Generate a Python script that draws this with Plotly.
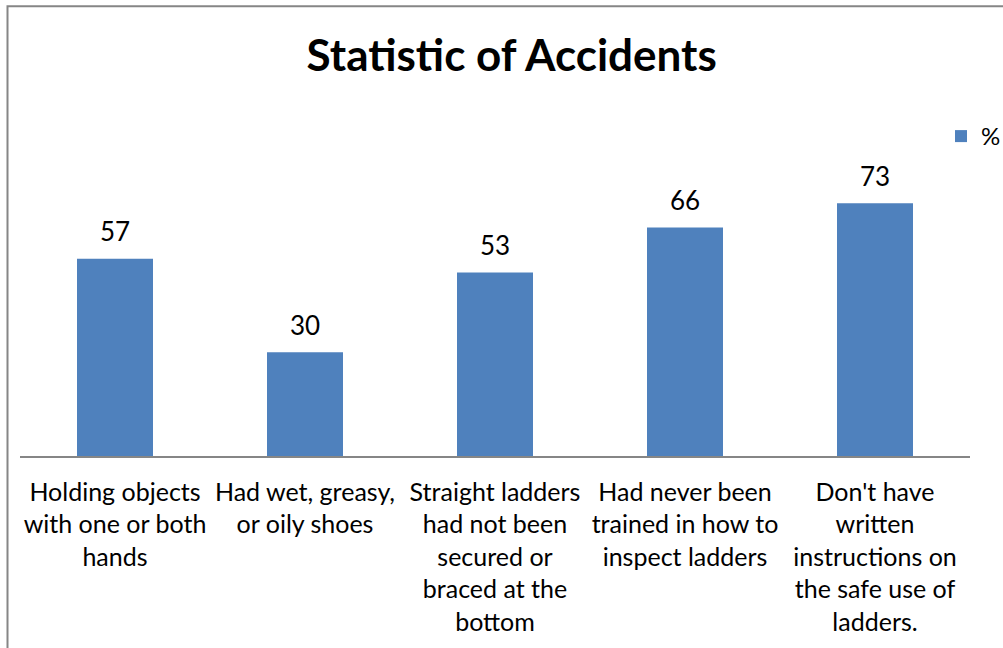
import plotly.graph_objects as go

# ---- data ----
categories = [
    "Holding objects with one or both hands",
    "Had wet, greasy, or oily shoes",
    "Straight ladders had not been secured or braced at the bottom",
    "Had never been trained in how to inspect ladders",
    "Don't have written instructions on the safe use of ladders.",
]
tick_labels = [
    "Holding objects<br>with one or both<br>hands",
    "Had wet, greasy,<br>or oily shoes",
    "Straight ladders<br>had not been<br>secured or<br>braced at the<br>bottom",
    "Had never been<br>trained in how to<br>inspect ladders",
    "Don't have<br>written<br>instructions on<br>the safe use of<br>ladders.",
]
values = [57, 30, 53, 66, 73]
series_name = "%"
chart_title = "Statistic of Accidents"

FONT = "Lato"
BAR_COLOR = "#4F81BD"
GRAY = "#868686"

W, H = 1003, 648
L, R, T, B = 20, 33, 179, 191.5
plot_h = H - T - B
plot_w = W - L - R

fig = go.Figure()
fig.add_trace(
    go.Bar(
        x=categories,
        y=values,
        name=series_name,
        marker=dict(color=BAR_COLOR, line=dict(width=0)),
        showlegend=True,
        hoverinfo="x+y",
    )
)

for c, v in zip(categories, values):
    fig.add_annotation(
        x=c, y=v, xref="x", yref="y",
        text=str(v), showarrow=False,
        yanchor="middle", yshift=27.5,
        font=dict(family=FONT, size=26, color="black"),
    )

# chart border (only top & left visible in the crop)
def px_to_paper_x(px):
    return (px - L) / plot_w

def px_to_paper_y(py):
    return (H - B - py) / plot_h

fig.add_shape(
    type="rect", xref="paper", yref="paper",
    x0=px_to_paper_x(7.5), x1=px_to_paper_x(W + 50),
    y0=px_to_paper_y(H + 50), y1=px_to_paper_y(6),
    line=dict(color=GRAY, width=2), fillcolor="rgba(0,0,0,0)", layer="below",
)

fig.update_layout(
    width=W, height=H,
    margin=dict(l=L, r=R, t=T, b=B, pad=0, autoexpand=False),
    paper_bgcolor="white", plot_bgcolor="white",
    bargap=0.6,
    showlegend=True,
    title=dict(
        text="<b>" + chart_title + "</b>",
        xref="container", yref="container",
        x=511.7 / W, xanchor="center",
        y=1 - 56 / H, yanchor="middle",
        font=dict(family=FONT, size=44, color="black"),
    ),
    legend=dict(
        xref="container", yref="container",
        x=941 / W, xanchor="left",
        y=1 - 136.5 / H, yanchor="middle",
        font=dict(family=FONT, size=24, color="black"),
        bgcolor="rgba(0,0,0,0)", borderwidth=0,
    ),
    font=dict(family=FONT, color="black"),
)

fig.update_xaxes(
    tickvals=categories, ticktext=tick_labels,
    showline=True, linecolor=GRAY, linewidth=1.5,
    ticks="", showgrid=False, zeroline=False,
    tickfont=dict(family=FONT, size=25, color="black"),
    ticklabelstandoff=13,
    range=[-0.5, 4.5],
)
fig.update_yaxes(visible=False, range=[0, 80], showgrid=False, zeroline=False)

fig.write_html("out.html")
